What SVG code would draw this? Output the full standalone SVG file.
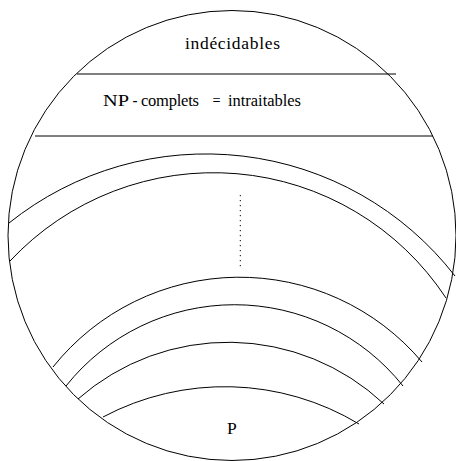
<svg xmlns="http://www.w3.org/2000/svg" width="456" height="461" viewBox="0 0 456 461">
<style>
.ln{fill:none;stroke:#000;stroke-width:1}
.t{font-family:"Liberation Serif","DejaVu Serif",serif;font-size:17.5px;fill:#000}
.s{font-size:16.5px}
</style>
<rect x="0" y="0" width="456" height="461" fill="#fff"/>
<g id="outer">
<ellipse class="ln" cx="232" cy="235.5" rx="224" ry="225"/>
</g>
<g id="bands">
<line class="ln" x1="77" y1="74" x2="396" y2="74"/>
<line class="ln" x1="35" y1="136" x2="433" y2="136"/>
<path class="ln" d="M9,223 A315.2,315.2 0 0 1 455,276"/>
<path class="ln" d="M10,261 A278.5,278.5 0 0 1 446,298"/>
<path class="ln" d="M53,367 A238.7,238.7 0 0 1 422,362"/>
<path class="ln" d="M66,386 A215.3,215.3 0 0 1 403,386"/>
<path class="ln" d="M78,399 A227.3,227.3 0 0 1 384,404"/>
<path class="ln" d="M103,417 A260,260 0 0 1 359,424"/>
<line class="ln" x1="240.3" y1="195" x2="240.3" y2="267" stroke-dasharray="1.2 3.8"/>
</g>
<g id="labels">
<text class="t" x="185" y="49" textLength="95" lengthAdjust="spacing">indécidables</text>
<text class="t s" y="106"><tspan x="103" textLength="26" lengthAdjust="spacingAndGlyphs">NP</tspan><tspan x="132.5" textLength="5" lengthAdjust="spacingAndGlyphs">-</tspan><tspan x="141" textLength="58" lengthAdjust="spacing">complets</tspan><tspan x="212.5" textLength="8" lengthAdjust="spacingAndGlyphs">=</tspan><tspan x="228" textLength="73" lengthAdjust="spacing">intraitables</tspan></text>
<text class="t" x="227" y="434">P</text>
</g>
</svg>
